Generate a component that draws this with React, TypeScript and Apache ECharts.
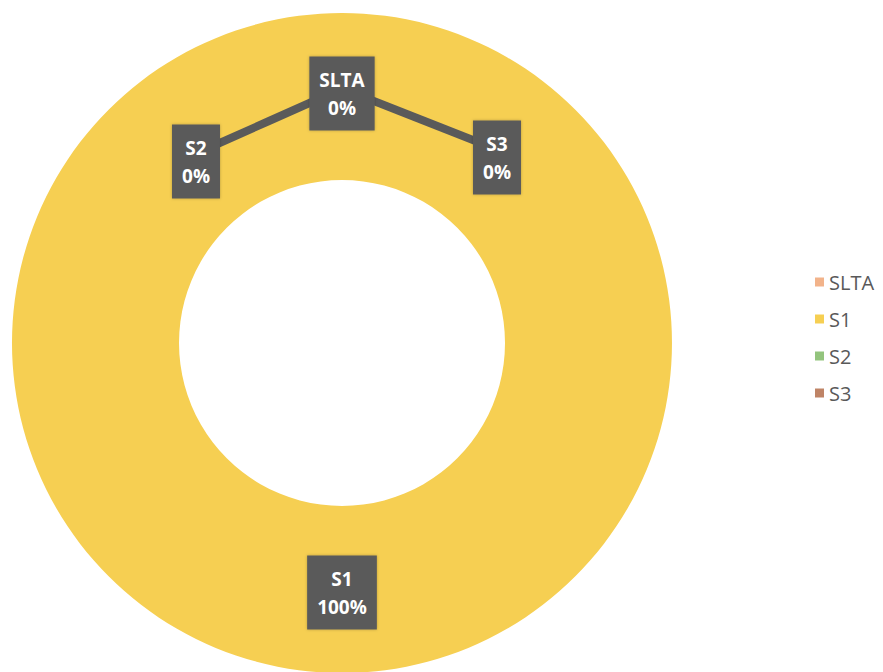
import React, { useEffect, useRef } from "react";
import * as echarts from "echarts";

const categories = ["SLTA", "S1", "S2", "S3"];
const values = [0, 100, 0, 0];
const colors = ["#F2B38A", "#F6CF52", "#93C47D", "#BF8466"];

export default function App() {
  const ref = useRef<HTMLDivElement>(null);
  useEffect(() => {
    if (!ref.current) return;
    const chart = echarts.init(ref.current, null, { renderer: "svg" });
    const offsets: Record<number, [number, number]> = {
      2: [-146, 65],
      3: [155, 61],
    };
    const lineLift = -8;
    const movedIdx = [2, 3];
    const center = [342, 343];
    const radius = [163, 330];
    const pieData = categories.map((name, i) => ({ name, value: values[i] }));
    chart.setOption({
      animation: false,
      backgroundColor: "#ffffff",
      legend: {
        orient: "vertical",
        left: 810,
        top: 267,
        icon: "rect",
        itemWidth: 9,
        itemHeight: 9,
        itemGap: 17,
        textStyle: { color: "#595959", fontSize: 20, fontFamily: "Open Sans", lineHeight: 17 },
        data: categories,
      },
      series: [
        {
          type: "pie",
          z: 2,
          center,
          radius,
          startAngle: 90,
          clockwise: true,
          color: colors,
          label: { show: false },
          labelLine: { show: false },
          emphasis: { disabled: true },
          data: pieData,
        },
        {
          type: "pie",
          z: 3,
          silent: true,
          center,
          radius,
          startAngle: 90,
          clockwise: true,
          avoidLabelOverlap: false,
          itemStyle: { color: "rgba(0,0,0,0)" },
          label: {
            show: true,
            position: "inside",
            formatter: (p: any) => `${p.name}\n${Math.round(p.percent)}%`,
            color: "#ffffff",
            fontWeight: "bold",
            fontSize: 19,
            lineHeight: 28,
            fontFamily: "Open Sans",
            backgroundColor: "#5A5A5A",
            padding: [9, 10],
            shadowColor: "rgba(0,0,0,0.25)",
            shadowBlur: 3,
          },
          labelLine: { show: true, lineStyle: { color: "#5A5A5A", width: 8, opacity: 1 } },
          labelLayout: (params: any) => {
            const off = offsets[params.dataIndex];
            if (!off) return {};
            const r = params.rect;
            const cx = r.x + r.width / 2;
            const cy = r.y + r.height / 2;
            const ly = cy + lineLift;
            return {
              x: cx + off[0],
              y: cy + off[1],
              align: "center",
              verticalAlign: "middle",
              labelLinePoints: [
                [cx, ly],
                [cx + off[0] / 2, ly + off[1] / 2],
                [cx + off[0], ly + off[1]],
              ],
            };
          },
          emphasis: { disabled: true },
          data: pieData.map((d, i) => ({
            ...d,
            ...(movedIdx.includes(i)
              ? { label: { position: "outside" }, labelLine: { show: true } }
              : { labelLine: { show: false } }),
          })),
        },
      ],
    });
    return () => chart.dispose();
  }, []);
  return (
    <div
      ref={ref}
      style={{ position: "fixed", left: 0, top: 0, width: 883, height: 672 }}
    />
  );
}
